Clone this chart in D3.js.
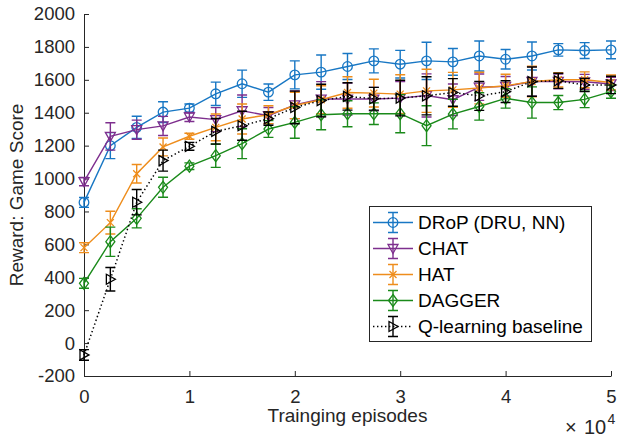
<!DOCTYPE html>
<html>
<head>
<meta charset="utf-8">
<script src="https://cdn.jsdelivr.net/npm/d3@7"></script>
<style>
  body { margin: 0; background: #fff; }
  svg { display: block; font-family: "Liberation Sans", Arial, Helvetica, sans-serif; }
</style>
</head>
<body>
<div class="chart"></div>
<script>
//data, x in training episodes

const episodes = [0, 2500, 5000, 7500, 10000, 12500, 15000, 17500, 20000, 22500, 25000,
  27500, 30000, 32500, 35000, 37500, 40000, 42500, 45000, 47500, 50000]

const drop = [855, 1200, 1311, 1404, 1428, 1515, 1576, 1525, 1630, 1647, 1681, 1715, 1695, 1715, 1709, 1745, 1725, 1745, 1782, 1778, 1782]
const dropErr = [30, 79, 68, 63, 25, 71, 83, 50, 85, 104, 79, 73, 84, 113, 81, 91, 59, 85, 38, 48, 54]

const chat = [981, 1256, 1297, 1320, 1374, 1358, 1412, 1382, 1448, 1483, 1483, 1483, 1489, 1505, 1479, 1555, 1560, 1590, 1590, 1588, 1575]
const chatErr = [25, 83, 58, 58, 27, 73, 96, 50, 84, 106, 97, 71, 100, 131, 96, 80, 60, 90, 45, 45, 40]

const hat = [580, 732, 1029, 1192, 1257, 1311, 1362, 1388, 1444, 1479, 1523, 1519, 1513, 1533, 1539, 1550, 1564, 1590, 1600, 1600, 1584]
const hatErr = [30, 69, 56, 54, 18, 81, 91, 54, 80, 85, 96, 84, 118, 131, 106, 96, 70, 93, 44, 48, 45]

const dagger = [363, 616, 758, 947, 1075, 1139, 1212, 1301, 1341, 1388, 1394, 1394, 1394, 1321, 1392, 1438, 1487, 1462, 1462, 1481, 1528]
const daggerErr = [30, 89, 58, 61, 20, 71, 91, 51, 96, 91, 79, 66, 116, 121, 90, 83, 59, 95, 43, 50, 40]

const qlearn = [-72, 388, 856, 1109, 1196, 1287, 1321, 1364, 1432, 1474, 1499, 1485, 1489, 1503, 1523, 1502, 1528, 1589, 1594, 1569, 1569]
const qlearnErr = [32, 71, 77, 64, 24, 78, 88, 40, 99, 99, 83, 69, 108, 116, 84, 88, 66, 89, 46, 40, 53]

const yTicks = [-200, 0, 200, 400, 600, 800, 1000, 1200, 1400, 1600, 1800, 2000]
const xTicks = [0, 10000, 20000, 30000, 40000, 50000]

const series = [
  { name: "DRoP (DRU, NN)", values: drop, err: dropErr, color: "#1877c4", marker: "circle", dash: null },
  { name: "CHAT", values: chat, err: chatErr, color: "#7e2f8e", marker: "down", dash: null },
  { name: "HAT", values: hat, err: hatErr, color: "#ee8d1c", marker: "x", dash: null },
  { name: "DAGGER", values: dagger, err: daggerErr, color: "#1a8a1a", marker: "diamond", dash: null },
  { name: "Q-learning baseline", values: qlearn, err: qlearnErr, color: "#000000", marker: "right", dash: "1.4,2.6" }
]

const width = 626
const height = 439
const margin = { top: 14, right: 15, bottom: 63, left: 84 }
const axisColor = "#262626"

const svg = d3.select(".chart")
  .append("svg")
    .attr("width", width)
    .attr("height", height)

svg.append("rect")
    .attr("width", width)
    .attr("height", height)
    .attr("fill", "#fff")

const x = d3.scaleLinear()
  .domain([0, 50000])
  .range([margin.left, width - margin.right])

const y = d3.scaleLinear()
  .domain([-200, 2000])
  .range([height - margin.bottom, margin.top])

// axes, matlab style: ticks inward, no box
const xAxis = svg.append("g")
    .attr("transform", `translate(0,${height - margin.bottom})`)
    .call(d3.axisBottom(x)
      .tickValues(xTicks)
      .tickFormat(d => String(d / 10000))
      .tickSizeInner(-5)
      .tickSizeOuter(0)
      .tickPadding(13.5))

const yAxis = svg.append("g")
    .attr("transform", `translate(${margin.left},0)`)
    .call(d3.axisLeft(y)
      .tickValues(yTicks)
      .tickFormat(d => String(d))
      .tickSizeInner(-5)
      .tickSizeOuter(0)
      .tickPadding(9))

for (const ax of [xAxis, yAxis]) {
  ax.attr("font-family", null).attr("font-size", null)
  ax.select(".domain").attr("stroke", axisColor).attr("stroke-width", 1)
  ax.selectAll(".tick line").attr("stroke", axisColor)
  ax.selectAll(".tick text")
      .attr("fill", axisColor)
      .style("font-size", "18.5px")
}

svg.append("text")
    .attr("x", (margin.left + width - margin.right) / 2)
    .attr("y", 422)
    .attr("text-anchor", "middle")
    .attr("fill", axisColor)
    .style("font-size", "19px")
    .text("Trainging episodes")

svg.append("text")
    .attr("transform", `translate(23,${(margin.top + height - margin.bottom) / 2}) rotate(-90)`)
    .attr("text-anchor", "middle")
    .attr("fill", axisColor)
    .style("font-size", "19px")
    .text("Reward: Game Score")

const expLabel = svg.append("text")
    .attr("y", 434)
    .attr("fill", axisColor)
    .style("font-size", "20px")
expLabel.append("tspan").attr("x", 565).text("\u00d7")
expLabel.append("tspan").attr("x", 584).text("10")
expLabel.append("tspan")
    .attr("x", 607.5)
    .attr("dy", -10)
    .style("font-size", "14px")
    .text("4")

function drawMarker(g, type, cx, cy, color) {
  const s = 5
  if (type === "circle") {
    g.append("circle").attr("cx", cx).attr("cy", cy).attr("r", 4.8)
  } else if (type === "down") {
    g.append("path").attr("d", `M${cx - s},${cy - s * 0.8}L${cx + s},${cy - s * 0.8}L${cx},${cy + s}Z`)
  } else if (type === "x") {
    g.append("path").attr("d", `M${cx - 3.5},${cy - 3.5}L${cx + 3.5},${cy + 3.5}M${cx - 3.5},${cy + 3.5}L${cx + 3.5},${cy - 3.5}`)
  } else if (type === "diamond") {
    g.append("path").attr("d", `M${cx},${cy - 6}L${cx + 4.5},${cy}L${cx},${cy + 6}L${cx - 4.5},${cy}Z`)
  } else if (type === "right") {
    g.append("path").attr("d", `M${cx - s * 0.8},${cy - s}L${cx + s},${cy}L${cx - s * 0.8},${cy + s}Z`)
  }
  g.selectAll("*")
      .attr("fill", "none")
      .attr("stroke", color)
      .attr("stroke-width", 1.3)
}

function drawErrorBar(g, cx, yTop, yBottom, color) {
  const cap = 5
  g.append("path")
      .attr("d", `M${cx},${yTop}L${cx},${yBottom}M${cx - cap},${yTop}L${cx + cap},${yTop}M${cx - cap},${yBottom}L${cx + cap},${yBottom}`)
      .attr("fill", "none")
      .attr("stroke", color)
      .attr("stroke-width", 1.4)
}

const line = d3.line()
  .x(d => x(d.ep))
  .y(d => y(d.v))

series.forEach(s => {
  const pts = episodes.map((ep, i) => ({ ep: ep, v: s.values[i], e: s.err[i] }))
  const g = svg.append("g")

  g.append("path")
      .datum(pts)
      .attr("d", line)
      .attr("fill", "none")
      .attr("stroke", s.color)
      .attr("stroke-width", s.dash ? 1.5 : 1.4)
      .attr("stroke-dasharray", s.dash)

  pts.forEach(p => {
    drawErrorBar(g, x(p.ep), y(p.v + p.e), y(p.v - p.e), s.color)
    drawMarker(g.append("g"), s.marker, x(p.ep), y(p.v), s.color)
  })
})

// legend
const legend = svg.append("g")

legend.append("rect")
    .attr("x", 369.5)
    .attr("y", 206.5)
    .attr("width", 222)
    .attr("height", 135)
    .attr("fill", "#fff")
    .attr("stroke", axisColor)
    .attr("stroke-width", 1)

series.forEach((s, i) => {
  const ly = 222.5 + i * 26
  const row = legend.append("g")
  row.append("line")
      .attr("x1", 373)
      .attr("x2", 413)
      .attr("y1", ly)
      .attr("y2", ly)
      .attr("stroke", s.color)
      .attr("stroke-width", s.dash ? 1.5 : 1.4)
      .attr("stroke-dasharray", s.dash)
  drawErrorBar(row, 393, ly - 10, ly + 10, s.color)
  drawMarker(row.append("g"), s.marker, 393, ly, s.color)
  row.append("text")
      .attr("x", 418)
      .attr("y", ly)
      .attr("dy", "0.35em")
      .attr("fill", "#000")
      .style("font-size", "19px")
      .text(s.name)
})
</script>
</body>
</html>
